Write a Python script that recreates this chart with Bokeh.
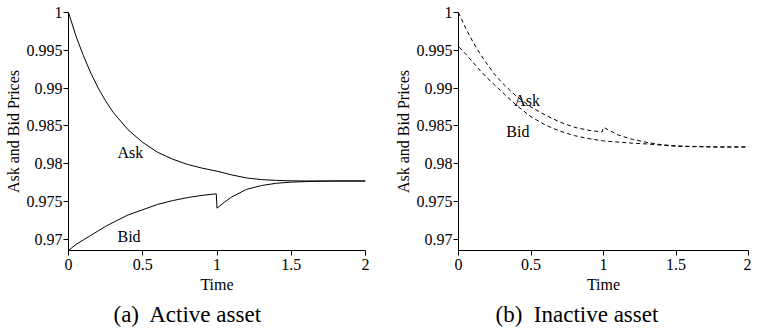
from bokeh.plotting import figure
from bokeh.layouts import row
from bokeh.models import FixedTicker, CustomJSTickFormatter, Range1d, Title, Label
from bokeh.embed import file_html
from bokeh.resources import INLINE

# ---- data ----
x_ticks = [0, 0.5, 1, 1.5, 2]
y_ticks = [0.97, 0.975, 0.98, 0.985, 0.99, 0.995, 1]

t_ask_active = [0, 0.05, 0.1, 0.15, 0.2, 0.25, 0.3, 0.4, 0.5, 0.6, 0.7, 0.8, 0.9, 1.0,
                1.1, 1.2, 1.3, 1.4, 1.5, 1.6, 1.8, 2.0]
ask_active = [1.0, 0.9969, 0.9943, 0.9920, 0.9900, 0.9883, 0.9868, 0.9845, 0.9828, 0.9815,
              0.9806, 0.9799, 0.9794, 0.9790, 0.9785, 0.9781, 0.97788, 0.97778, 0.97772,
              0.9777, 0.9777, 0.9777]

t_bid_active = [0, 0, 0.025, 0.05, 0.1, 0.15, 0.2, 0.25, 0.3, 0.4, 0.5, 0.6, 0.7, 0.8, 0.9,
                0.995, 1.0, 1.05, 1.1, 1.2, 1.3, 1.4, 1.5, 1.6, 1.7, 1.8, 2.0]
bid_active = [1.0, 0.9685, 0.9689, 0.9693, 0.9699, 0.9705, 0.9711, 0.9717, 0.9722, 0.9732,
              0.9739, 0.9746, 0.9751, 0.9755, 0.9758, 0.9760, 0.9741, 0.9749, 0.9756,
              0.9766, 0.9771, 0.9774, 0.97755, 0.97762, 0.97767, 0.9777, 0.9777]

t_ask_inactive = [0, 0.05, 0.1, 0.15, 0.2, 0.25, 0.3, 0.4, 0.5, 0.6, 0.7, 0.8, 0.9, 0.99,
                  1.0, 1.1, 1.2, 1.3, 1.4, 1.5, 1.6, 1.8, 2.0]
ask_inactive = [1.0, 0.9979, 0.9961, 0.9945, 0.9931, 0.9918, 0.9907, 0.9889, 0.9875, 0.9864,
                0.9855, 0.9848, 0.9844, 0.9842, 0.9848, 0.9838, 0.9832, 0.9828, 0.9825,
                0.98235, 0.98228, 0.9822, 0.9822]

t_bid_inactive = [0, 0, 0.05, 0.1, 0.15, 0.2, 0.25, 0.3, 0.4, 0.5, 0.6, 0.7, 0.8, 0.9, 1.0,
                  1.1, 1.2, 1.3, 1.4, 1.5, 1.6, 1.8, 2.0]
bid_inactive = [1.0, 0.9955, 0.9945, 0.9934, 0.9923, 0.9913, 0.9904, 0.9895, 0.9877, 0.9862,
                0.9851, 0.9843, 0.9837, 0.9833, 0.9830, 0.98285, 0.9827, 0.9826, 0.98245,
                0.9823, 0.98225, 0.9822, 0.9822]

# label anchors (data coords)
lab_active = {"Ask": (0.33, 0.9815), "Bid": (0.33, 0.9704)}
lab_inactive = {"Ask": (0.384, 0.9883), "Bid": (0.33, 0.9842)}

captions = ["(a)\u00a0 Active asset", "(b)\u00a0 Inactive asset"]

FONT = "Liberation Serif"
fmt = CustomJSTickFormatter(code="return String(Number(tick.toFixed(4)));")


def make(frame_w, bl, br, caption, cap_offset):
    p = figure(frame_width=frame_w, frame_height=238, output_backend="svg",
               toolbar_location=None,
               x_range=Range1d(0, 2), y_range=Range1d(0.9685, 1.0),
               min_border_left=bl, min_border_right=br, min_border_top=12,
               min_border_bottom=20)
    p.grid.visible = False
    p.outline_line_color = None
    p.background_fill_color = "white"
    p.border_fill_color = "white"
    for ax, ticks in ((p.xaxis[0], x_ticks), (p.yaxis[0], y_ticks)):
        ax.ticker = FixedTicker(ticks=ticks, minor_ticks=[])
        ax.formatter = fmt
        ax.axis_line_color = "black"
        ax.major_tick_line_color = "black"
        ax.minor_tick_line_color = None
        ax.major_tick_in = 0
        ax.major_tick_out = 5
        ax.major_label_text_font = FONT
        ax.major_label_text_font_size = "16px"
        ax.major_label_text_color = "black"
        ax.axis_label_text_font = FONT
        ax.axis_label_text_font_size = "16px"
        ax.axis_label_text_font_style = "normal"
        ax.axis_label_text_color = "black"
    p.xaxis.axis_label = "Time"
    p.yaxis.axis_label = "Ask and Bid Prices"
    p.xaxis.major_label_standoff = 3
    p.xaxis.axis_label_standoff = 3
    p.yaxis.major_label_standoff = 1
    p.yaxis.axis_label_standoff = 2
    t = Title(text=caption, align="left", text_font=FONT, text_font_size="23px",
              text_font_style="normal", text_color="black", standoff=9, offset=cap_offset)
    p.add_layout(t, "below")
    return p


p1 = make(297, 68, 11, captions[0], 45)
p1.line(t_ask_active, ask_active, line_color="black", line_width=1)
p1.line(t_bid_active, bid_active, line_color="black", line_width=1)
for k, (x, y) in lab_active.items():
    p1.add_layout(Label(x=x, y=y, text=k, text_font=FONT, text_font_size="16px",
                        text_color="black", text_baseline="alphabetic"))

p2 = make(290, 82, 3, captions[1], 37)
p2.line(t_ask_inactive, ask_inactive, line_color="black", line_width=1, line_dash="4 3")
p2.line(t_bid_inactive, bid_inactive, line_color="black", line_width=1, line_dash="4 3")
for k, (x, y) in lab_inactive.items():
    p2.add_layout(Label(x=x, y=y, text=k, text_font=FONT, text_font_size="16px",
                        text_color="black", text_baseline="alphabetic"))

layout = row(p1, p2)
open("out.html", "w").write(file_html(layout, INLINE))
